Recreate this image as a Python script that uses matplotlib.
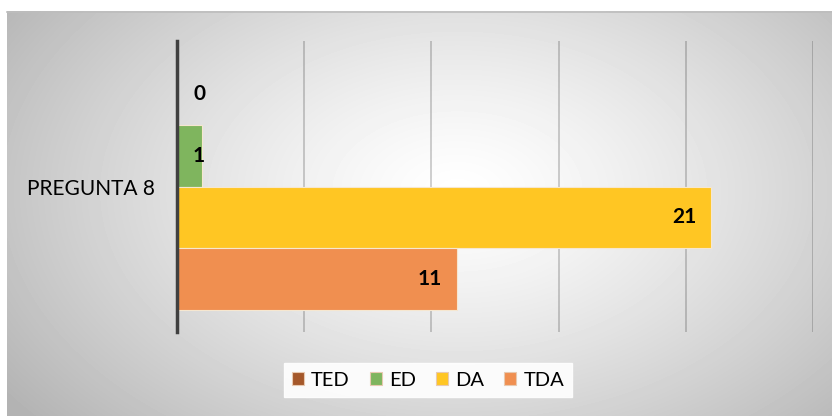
import numpy as np
import matplotlib
matplotlib.use("Agg")
import matplotlib.pyplot as plt
from matplotlib.patches import Patch

# datos de la pregunta 8
category = "PREGUNTA 8"
series = ["TED", "ED", "DA", "TDA"]
values = [0, 1, 21, 11]
colors = ["#A5582A", "#7FB55E", "#FFC623", "#F08F50"]

plt.rcParams["font.family"] = ["Lato", "DejaVu Sans"]

W, H = 832, 416
fig = plt.figure(figsize=(W / 100, H / 100), dpi=100)
fig.patch.set_facecolor("white")

# fondo con degradado radial
bg = fig.add_axes([7 / W, 0, 1 - 7 / W, (H - 11) / H])
ny, nx = 405, 825
yy, xx = np.mgrid[0:ny, 0:nx]
cx, cy = 450, 180
r = np.sqrt(((xx - cx) / 500) ** 2 + ((yy - cy) / 320) ** 2)
shade = 1 - 0.26 * np.clip(r, 0, 1.1) ** 1.3
bg.imshow(shade, cmap="gray", vmin=0, vmax=1, aspect="auto", interpolation="bilinear")
bg.set_axis_off()
fig.add_artist(plt.Line2D([7 / W, 1], [(H - 11.5) / H] * 2, color="#BDBDBD", lw=1.2))

# ejes principales
left, right, top, bottom = 177, 813, 41, 332
ax = fig.add_axes([left / W, (H - bottom) / H, (right - left) / W, (bottom - top) / H])
ax.patch.set_alpha(0)

h = 0.2
pos = [0.3, 0.1, -0.1, -0.3]
for s, v, c, p in zip(series, values, colors, pos):
    ax.barh(p, v, height=h, color=c, edgecolor="#F6E7D0", linewidth=0.8, zorder=3)
    if v >= 3:
        ax.annotate(str(v), (v, p), xytext=(-15, 0), textcoords="offset pixels",
                    ha="right", va="center", fontsize=15, fontweight="bold", zorder=4)
    else:
        ax.annotate(str(v), (0, p), xytext=(16, 0), textcoords="offset pixels",
                    ha="left", va="center", fontsize=15, fontweight="bold", zorder=4)

ax.set_xlim(0, 25)
ax.set_ylim(-0.47, 0.47)
ax.set_xticks([5, 10, 15, 20, 25])
ax.set_xticklabels([])
ax.tick_params(length=0)
ax.set_yticks([0])
ax.set_yticklabels([category], fontsize=15)
ax.tick_params(axis="y", pad=16)
ax.grid(axis="x", color="black", alpha=0.2, lw=1.3, zorder=1)
for sp in ["top", "right", "bottom"]:
    ax.spines[sp].set_visible(False)
ax.spines["left"].set_color("#404040")
ax.spines["left"].set_linewidth(2.5)
ax.spines["left"].set_zorder(5)

# leyenda
handles = [Patch(facecolor=c, edgecolor="#E8C9B0", linewidth=0.8) for c in colors]
leg = fig.legend(handles, series, loc="center", bbox_to_anchor=(428 / W, (H - 380) / H),
                 ncol=4, frameon=True, fancybox=False, fontsize=14.5,
                 handlelength=0.6, handleheight=0.6, handletextpad=0.35,
                 columnspacing=1.0, borderpad=0.4, borderaxespad=0)
leg.get_frame().set_facecolor("white")
leg.get_frame().set_edgecolor("white")
leg.get_frame().set_alpha(0.9)

fig.savefig("out.png", dpi=100)
